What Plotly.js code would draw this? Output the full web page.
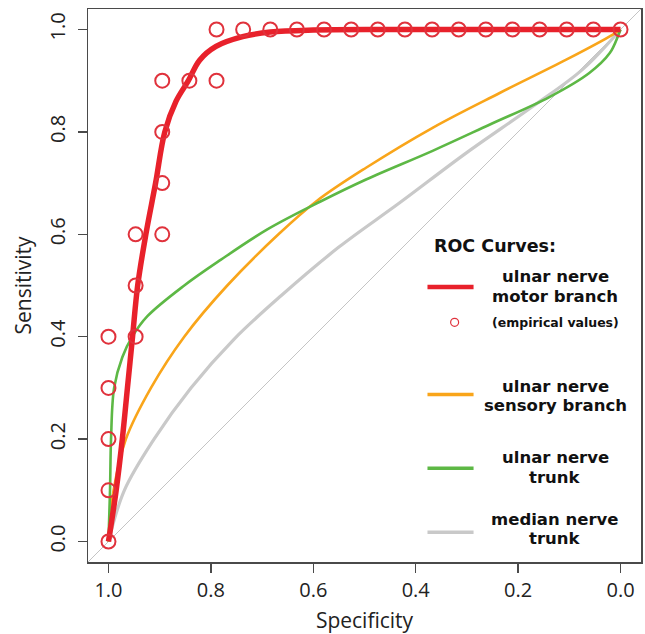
<!DOCTYPE html>
<html>
<head>
<meta charset="utf-8">
<script src="https://cdn.plot.ly/plotly-3.0.1.min.js"></script>
<style>
  html, body { margin: 0; padding: 0; background: #fff; }
  #chart { width: 645px; height: 634px; }
</style>
</head>
<body>
<div id="chart"></div>
<script>
// ---- data ----
const tickVals = [1.0, 0.8, 0.6, 0.4, 0.2, 0.0];
const tickText = ['1.0', '0.8', '0.6', '0.4', '0.2', '0.0'];

// ulnar nerve motor branch (smoothed ROC)
const motorSpec = [1.0, 0.985, 0.973, 0.963, 0.953, 0.943, 0.927, 0.908, 0.89, 0.868, 0.844, 0.822, 0.79, 0.738, 0.684, 0.6, 0.45, 0.0];
const motorSens = [0.0, 0.1, 0.2, 0.3, 0.4, 0.5, 0.6, 0.7, 0.8, 0.86, 0.9, 0.94, 0.967, 0.986, 0.995, 0.999, 1.0, 1.0];

// ulnar nerve motor branch (empirical values)
const empSpec = [1.0, 1.0, 1.0, 1.0, 1.0, 0.947, 0.947, 0.947, 0.895, 0.895, 0.895, 0.895, 0.842, 0.789, 0.789,
                 0.737, 0.684, 0.632, 0.579, 0.526, 0.474, 0.421, 0.368, 0.316, 0.263, 0.211, 0.158, 0.105, 0.053, 0.0];
const empSens = [0.0, 0.1, 0.2, 0.3, 0.4, 0.4, 0.5, 0.6, 0.6, 0.7, 0.8, 0.9, 0.9, 0.9, 1.0,
                 1.0, 1.0, 1.0, 1.0, 1.0, 1.0, 1.0, 1.0, 1.0, 1.0, 1.0, 1.0, 1.0, 1.0, 1.0];

// ulnar nerve sensory branch
const sensorySpec = [1.0, 0.99, 0.966, 0.917, 0.852, 0.768, 0.668, 0.592, 0.497, 0.367, 0.236, 0.106, 0.015, 0.0];
const sensorySens = [0.0, 0.1, 0.2, 0.3, 0.4, 0.5, 0.6, 0.666, 0.73, 0.808, 0.876, 0.941, 0.99, 1.0];

// ulnar nerve trunk
const ulnarTrunkSpec = [1.0, 0.997, 0.995, 0.989, 0.973, 0.953, 0.924, 0.852, 0.781, 0.689, 0.586, 0.497, 0.367, 0.256, 0.139, 0.061, 0.021, 0.005, 0.0];
const ulnarTrunkSens = [0.0, 0.1, 0.2, 0.3, 0.36, 0.401, 0.44, 0.5, 0.55, 0.61, 0.664, 0.707, 0.763, 0.814, 0.868, 0.915, 0.954, 0.987, 1.0];

// median nerve trunk
const medianSpec = [1.0, 0.969, 0.911, 0.839, 0.755, 0.663, 0.55, 0.432, 0.301, 0.171, 0.074, 0.0];
const medianSens = [0.0, 0.1, 0.2, 0.3, 0.395, 0.48, 0.575, 0.661, 0.759, 0.85, 0.922, 1.0];

// chance diagonal (sensitivity = 1 - specificity), spans the axis range
const diagSpec = [1.04, -0.04];
const diagSens = [-0.04, 1.04];

// ---- styles ----
const RED = '#e8212b', ORANGE = '#f9a51a', GREEN = '#5db845', GRAY = '#c9c9c9', CIRC = '#e0323c';
const AXIS = '#4a4a4a';

const traces = [
  { x: diagSpec, y: diagSens, mode: 'lines', line: { color: '#c4c4c4', width: 1 }, hoverinfo: 'skip' },
  { x: medianSpec, y: medianSens, mode: 'lines', line: { color: GRAY, width: 3.2, shape: 'spline', smoothing: 1 }, name: 'median nerve trunk' },
  { x: sensorySpec, y: sensorySens, mode: 'lines', line: { color: ORANGE, width: 2.6, shape: 'spline', smoothing: 1 }, name: 'ulnar nerve sensory branch' },
  { x: ulnarTrunkSpec, y: ulnarTrunkSens, mode: 'lines', line: { color: GREEN, width: 2.6, shape: 'spline', smoothing: 1 }, name: 'ulnar nerve trunk' },
  { x: motorSpec, y: motorSens, mode: 'lines', line: { color: RED, width: 5.5, shape: 'spline', smoothing: 1 }, name: 'ulnar nerve motor branch' },
  { x: empSpec, y: empSens, mode: 'markers', marker: { symbol: 'circle-open', size: 14, color: CIRC, line: { width: 2, color: CIRC } }, name: 'empirical values' }
];

const legFont = { family: 'DejaVu Sans, sans-serif', size: 16.5, color: '#111' };
const legX = 0.127;
function ann(text, x, y, font) {
  return { text: text, x: x, y: y, xref: 'x', yref: 'y', showarrow: false, xanchor: 'center', yanchor: 'middle', font: font, borderpad: 0 };
}
function seg(y, color, w) {
  return { type: 'line', xref: 'x', yref: 'y', x0: 0.377, x1: 0.287, y0: y, y1: y, line: { color: color, width: w } };
}

const annotations = [
  ann('<b>ROC Curves:</b>', 0.246, 0.577, Object.assign({}, legFont, { size: 17.5 })),
  ann('<b>ulnar nerve</b>', legX, 0.517, legFont),
  ann('<b>motor branch</b>', legX, 0.479, legFont),
  ann('<b>(empirical values)</b>', legX, 0.428, Object.assign({}, legFont, { size: 12.5 })),
  ann('<b>ulnar nerve</b>', legX, 0.302, legFont),
  ann('<b>sensory branch</b>', legX, 0.265, legFont),
  ann('<b>ulnar nerve</b>', legX, 0.164, legFont),
  ann('<b>trunk</b>', legX, 0.126, legFont),
  ann('<b>median nerve</b>', legX, 0.043, legFont),
  ann('<b>trunk</b>', legX, 0.005, legFont)
];

const shapes = [
  seg(0.497, RED, 4.5),
  seg(0.287, ORANGE, 3.5),
  seg(0.143, GREEN, 3.5),
  seg(0.018, GRAY, 3.5),
  { type: 'circle', xref: 'x', yref: 'y', xsizemode: 'pixel', ysizemode: 'pixel', xanchor: 0.324, yanchor: 0.428,
    x0: -4, x1: 4, y0: -4, y1: 4, line: { color: CIRC, width: 1.2 } }
];

const tickFont = { family: 'Open Sans, sans-serif', size: 20, color: '#222' };

const layout = {
  width: 645, height: 634,
  margin: { l: 88, r: 4, t: 9, b: 72, pad: 0 },
  paper_bgcolor: '#ffffff', plot_bgcolor: '#ffffff',
  showlegend: false,
  xaxis: {
    range: [1.04, -0.04], tickvals: tickVals, ticktext: tickText,
    ticks: 'outside', ticklen: 9, tickwidth: 1.5, tickcolor: AXIS,
    showline: true, mirror: true, linecolor: AXIS, linewidth: 1.5,
    showgrid: false, zeroline: false, tickfont: tickFont,
    title: { text: 'Specificity', font: { family: 'Open Sans, sans-serif', size: 21, color: '#222' }, standoff: 14 }
  },
  yaxis: {
    range: [-0.04, 1.04], tickvals: tickVals, ticktext: tickText,
    ticks: 'outside', ticklen: 9, tickwidth: 1.5, tickcolor: AXIS, tickangle: -90,
    ticklabelstandoff: 5,
    showline: true, mirror: true, linecolor: AXIS, linewidth: 1.5,
    showgrid: false, zeroline: false, tickfont: tickFont,
    title: { text: 'Sensitivity', font: { family: 'Open Sans, sans-serif', size: 21, color: '#222' }, standoff: 6 }
  },
  annotations: annotations,
  shapes: shapes
};

Plotly.newPlot('chart', traces, layout, { displayModeBar: false, staticPlot: true });
</script>
</body>
</html>
